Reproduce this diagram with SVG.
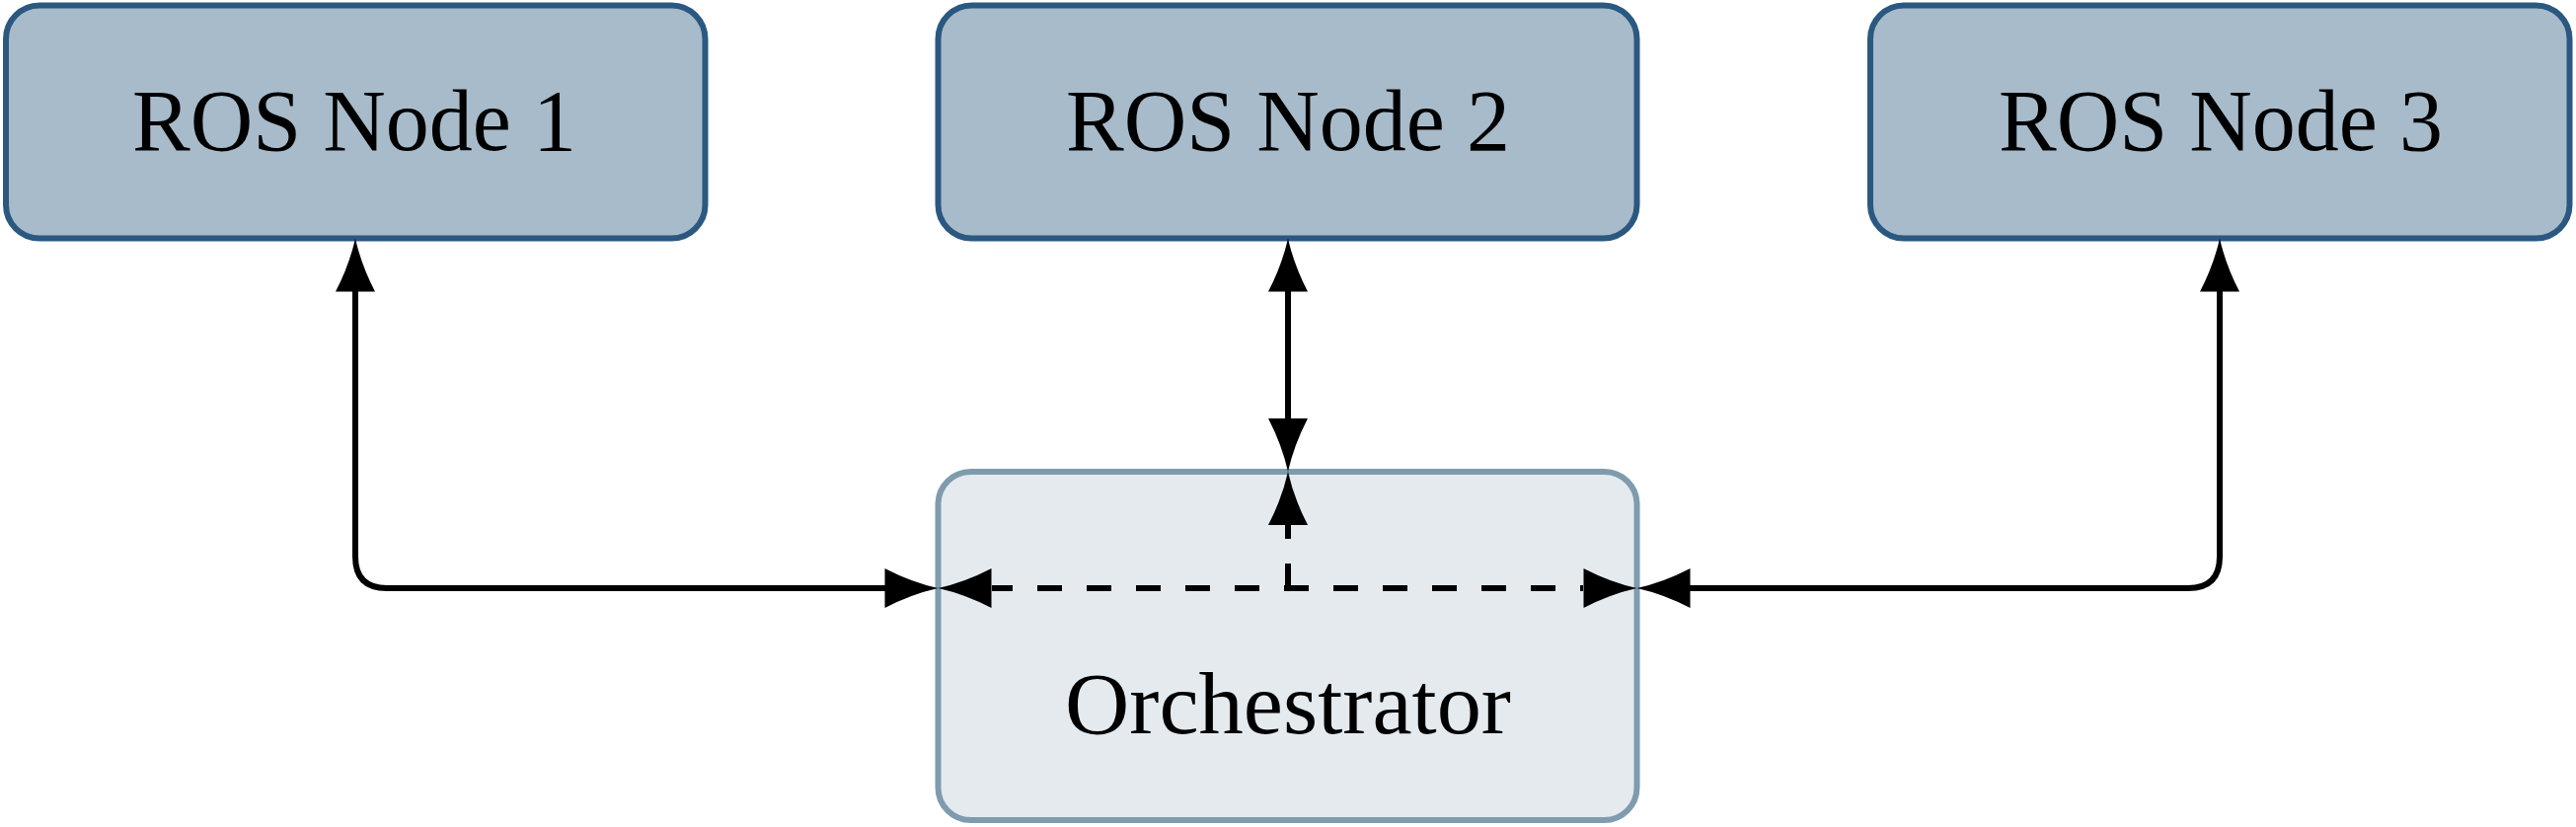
<svg xmlns="http://www.w3.org/2000/svg" width="2610" height="838" viewBox="0 0 2610 838">
<style>
.ros rect{fill:#a8bbca;stroke:#2b5880;stroke-width:6}
.orch rect{fill:#e5eaef;stroke:#7f9cae;stroke-width:6}
.lbl{font-family:"Liberation Serif","DejaVu Serif",serif;font-size:88px;fill:#000;text-anchor:middle}
.ln{fill:none;stroke:#000;stroke-width:6}
.dash{stroke-dasharray:25 25}
</style>
<defs>
<path id="ah" d="M0,0 Q-27,6 -54,20 L-54,-20 Q-27,-6 0,0 Z" fill="#000"/>
</defs>
<rect width="2610" height="838" fill="#fff"/>
<g id="orchestrator" class="orch">
<rect x="950.5" y="478" width="708" height="353" rx="33"/>
<text class="lbl" x="1305" y="743" textLength="452" lengthAdjust="spacingAndGlyphs">Orchestrator</text>
</g>
<g id="node1" class="ros">
<rect x="6" y="5.5" width="708.5" height="236" rx="34"/>
<text class="lbl" x="359" y="152">ROS Node 1</text>
</g>
<g id="node2" class="ros">
<rect x="950.5" y="5.5" width="708" height="236" rx="34"/>
<text class="lbl" x="1305" y="152">ROS Node 2</text>
</g>
<g id="node3" class="ros">
<rect x="1895" y="5.5" width="708.5" height="236" rx="34"/>
<text class="lbl" x="2250" y="152">ROS Node 3</text>
</g>
<g id="connectors">
<path class="ln" d="M360,290 V564 Q360,596 392,596 H900"/>
<path class="ln" d="M1305,290 V428"/>
<path class="ln" d="M1705,596 H2217 Q2249,596 2249,564 V290"/>
<path class="ln dash" d="M1305,596 V528"/>
<path class="ln dash" style="stroke-dashoffset:4" d="M1005,596 H1604"/>
<use href="#ah" transform="translate(360,241.5) rotate(-90)"/>
<use href="#ah" transform="translate(950.5,596)"/>
<use href="#ah" transform="translate(1305,241.5) rotate(-90)"/>
<use href="#ah" transform="translate(1305,478) rotate(90)"/>
<use href="#ah" transform="translate(1305,478) rotate(-90)"/>
<use href="#ah" transform="translate(950.5,596) rotate(180)"/>
<use href="#ah" transform="translate(1658.5,596)"/>
<use href="#ah" transform="translate(1658.5,596) rotate(180)"/>
<use href="#ah" transform="translate(2249,241.5) rotate(-90)"/>
</g>
</svg>
